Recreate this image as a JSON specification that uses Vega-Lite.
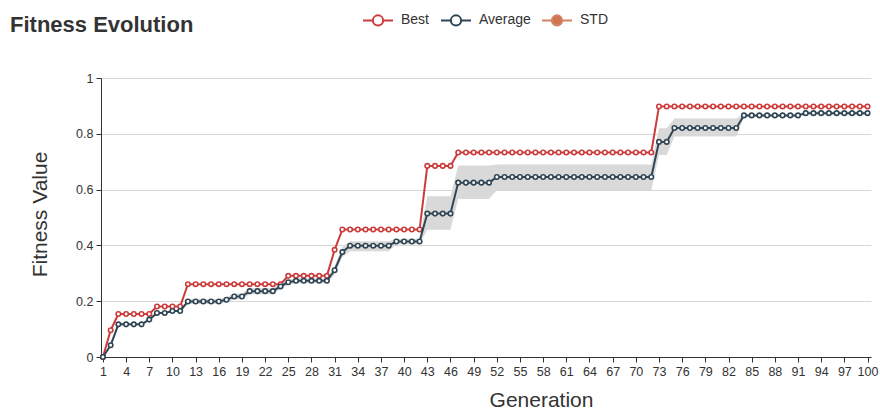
{
  "$schema": "https://vega.github.io/schema/vega-lite/v6.json",
  "width": 770,
  "height": 279,
  "autosize": {"type": "none"},
  "padding": {"left": 101, "top": 78, "right": 9, "bottom": 54},
  "background": "#ffffff",
  "title": {
    "text": "Fitness Evolution",
    "anchor": "start",
    "frame": "group",
    "dx": -91,
    "dy": 50,
    "offset": 0,
    "baseline": "alphabetic",
    "fontSize": 22,
    "fontWeight": "bold",
    "color": "#333333",
    "font": "Liberation Sans"
  },
  "data": {
    "values": [
      {"g": 1, "best": 0, "avg": 0, "lo": 0, "hi": 0},
      {"g": 2, "best": 0.096, "avg": 0.042, "lo": 0.036, "hi": 0.048},
      {"g": 3, "best": 0.154, "avg": 0.117, "lo": 0.113, "hi": 0.121},
      {"g": 4, "best": 0.154, "avg": 0.117, "lo": 0.113, "hi": 0.121},
      {"g": 5, "best": 0.154, "avg": 0.117, "lo": 0.113, "hi": 0.121},
      {"g": 6, "best": 0.154, "avg": 0.117, "lo": 0.113, "hi": 0.121},
      {"g": 7, "best": 0.154, "avg": 0.134, "lo": 0.130, "hi": 0.138},
      {"g": 8, "best": 0.181, "avg": 0.158, "lo": 0.154, "hi": 0.162},
      {"g": 9, "best": 0.181, "avg": 0.158, "lo": 0.154, "hi": 0.162},
      {"g": 10, "best": 0.181, "avg": 0.165, "lo": 0.161, "hi": 0.169},
      {"g": 11, "best": 0.181, "avg": 0.165, "lo": 0.161, "hi": 0.169},
      {"g": 12, "best": 0.261, "avg": 0.199, "lo": 0.190, "hi": 0.208},
      {"g": 13, "best": 0.261, "avg": 0.199, "lo": 0.190, "hi": 0.208},
      {"g": 14, "best": 0.261, "avg": 0.199, "lo": 0.190, "hi": 0.208},
      {"g": 15, "best": 0.261, "avg": 0.199, "lo": 0.190, "hi": 0.208},
      {"g": 16, "best": 0.261, "avg": 0.199, "lo": 0.190, "hi": 0.208},
      {"g": 17, "best": 0.261, "avg": 0.205, "lo": 0.195, "hi": 0.215},
      {"g": 18, "best": 0.261, "avg": 0.217, "lo": 0.206, "hi": 0.228},
      {"g": 19, "best": 0.261, "avg": 0.217, "lo": 0.206, "hi": 0.228},
      {"g": 20, "best": 0.261, "avg": 0.236, "lo": 0.225, "hi": 0.247},
      {"g": 21, "best": 0.261, "avg": 0.236, "lo": 0.225, "hi": 0.247},
      {"g": 22, "best": 0.261, "avg": 0.236, "lo": 0.225, "hi": 0.247},
      {"g": 23, "best": 0.261, "avg": 0.236, "lo": 0.225, "hi": 0.247},
      {"g": 24, "best": 0.261, "avg": 0.253, "lo": 0.243, "hi": 0.263},
      {"g": 25, "best": 0.291, "avg": 0.268, "lo": 0.259, "hi": 0.277},
      {"g": 26, "best": 0.291, "avg": 0.273, "lo": 0.264, "hi": 0.282},
      {"g": 27, "best": 0.291, "avg": 0.273, "lo": 0.264, "hi": 0.282},
      {"g": 28, "best": 0.291, "avg": 0.273, "lo": 0.264, "hi": 0.282},
      {"g": 29, "best": 0.291, "avg": 0.273, "lo": 0.264, "hi": 0.282},
      {"g": 30, "best": 0.291, "avg": 0.273, "lo": 0.264, "hi": 0.282},
      {"g": 31, "best": 0.384, "avg": 0.311, "lo": 0.296, "hi": 0.326},
      {"g": 32, "best": 0.457, "avg": 0.376, "lo": 0.358, "hi": 0.394},
      {"g": 33, "best": 0.457, "avg": 0.399, "lo": 0.379, "hi": 0.415},
      {"g": 34, "best": 0.457, "avg": 0.399, "lo": 0.379, "hi": 0.415},
      {"g": 35, "best": 0.457, "avg": 0.399, "lo": 0.379, "hi": 0.415},
      {"g": 36, "best": 0.457, "avg": 0.399, "lo": 0.379, "hi": 0.415},
      {"g": 37, "best": 0.457, "avg": 0.399, "lo": 0.379, "hi": 0.415},
      {"g": 38, "best": 0.457, "avg": 0.399, "lo": 0.379, "hi": 0.415},
      {"g": 39, "best": 0.457, "avg": 0.414, "lo": 0.404, "hi": 0.424},
      {"g": 40, "best": 0.457, "avg": 0.414, "lo": 0.404, "hi": 0.424},
      {"g": 41, "best": 0.457, "avg": 0.414, "lo": 0.404, "hi": 0.424},
      {"g": 42, "best": 0.457, "avg": 0.414, "lo": 0.404, "hi": 0.424},
      {"g": 43, "best": 0.685, "avg": 0.514, "lo": 0.456, "hi": 0.576},
      {"g": 44, "best": 0.685, "avg": 0.514, "lo": 0.456, "hi": 0.576},
      {"g": 45, "best": 0.685, "avg": 0.514, "lo": 0.456, "hi": 0.576},
      {"g": 46, "best": 0.685, "avg": 0.514, "lo": 0.456, "hi": 0.576},
      {"g": 47, "best": 0.733, "avg": 0.625, "lo": 0.566, "hi": 0.686},
      {"g": 48, "best": 0.733, "avg": 0.625, "lo": 0.566, "hi": 0.686},
      {"g": 49, "best": 0.733, "avg": 0.625, "lo": 0.566, "hi": 0.686},
      {"g": 50, "best": 0.733, "avg": 0.625, "lo": 0.566, "hi": 0.686},
      {"g": 51, "best": 0.733, "avg": 0.625, "lo": 0.566, "hi": 0.686},
      {"g": 52, "best": 0.733, "avg": 0.645, "lo": 0.598, "hi": 0.690},
      {"g": 53, "best": 0.733, "avg": 0.645, "lo": 0.598, "hi": 0.690},
      {"g": 54, "best": 0.733, "avg": 0.645, "lo": 0.598, "hi": 0.690},
      {"g": 55, "best": 0.733, "avg": 0.645, "lo": 0.598, "hi": 0.690},
      {"g": 56, "best": 0.733, "avg": 0.645, "lo": 0.598, "hi": 0.690},
      {"g": 57, "best": 0.733, "avg": 0.645, "lo": 0.598, "hi": 0.690},
      {"g": 58, "best": 0.733, "avg": 0.645, "lo": 0.598, "hi": 0.690},
      {"g": 59, "best": 0.733, "avg": 0.645, "lo": 0.598, "hi": 0.690},
      {"g": 60, "best": 0.733, "avg": 0.645, "lo": 0.598, "hi": 0.690},
      {"g": 61, "best": 0.733, "avg": 0.645, "lo": 0.598, "hi": 0.690},
      {"g": 62, "best": 0.733, "avg": 0.645, "lo": 0.598, "hi": 0.690},
      {"g": 63, "best": 0.733, "avg": 0.645, "lo": 0.598, "hi": 0.690},
      {"g": 64, "best": 0.733, "avg": 0.645, "lo": 0.598, "hi": 0.690},
      {"g": 65, "best": 0.733, "avg": 0.645, "lo": 0.598, "hi": 0.690},
      {"g": 66, "best": 0.733, "avg": 0.645, "lo": 0.598, "hi": 0.690},
      {"g": 67, "best": 0.733, "avg": 0.645, "lo": 0.598, "hi": 0.690},
      {"g": 68, "best": 0.733, "avg": 0.645, "lo": 0.598, "hi": 0.690},
      {"g": 69, "best": 0.733, "avg": 0.645, "lo": 0.598, "hi": 0.690},
      {"g": 70, "best": 0.733, "avg": 0.645, "lo": 0.598, "hi": 0.690},
      {"g": 71, "best": 0.733, "avg": 0.645, "lo": 0.598, "hi": 0.690},
      {"g": 72, "best": 0.733, "avg": 0.645, "lo": 0.598, "hi": 0.690},
      {"g": 73, "best": 0.898, "avg": 0.771, "lo": 0.724, "hi": 0.820},
      {"g": 74, "best": 0.898, "avg": 0.771, "lo": 0.724, "hi": 0.820},
      {"g": 75, "best": 0.898, "avg": 0.821, "lo": 0.790, "hi": 0.855},
      {"g": 76, "best": 0.898, "avg": 0.821, "lo": 0.790, "hi": 0.855},
      {"g": 77, "best": 0.898, "avg": 0.821, "lo": 0.790, "hi": 0.855},
      {"g": 78, "best": 0.898, "avg": 0.821, "lo": 0.790, "hi": 0.855},
      {"g": 79, "best": 0.898, "avg": 0.821, "lo": 0.790, "hi": 0.855},
      {"g": 80, "best": 0.898, "avg": 0.821, "lo": 0.790, "hi": 0.855},
      {"g": 81, "best": 0.898, "avg": 0.821, "lo": 0.790, "hi": 0.855},
      {"g": 82, "best": 0.898, "avg": 0.821, "lo": 0.790, "hi": 0.855},
      {"g": 83, "best": 0.898, "avg": 0.821, "lo": 0.790, "hi": 0.855},
      {"g": 84, "best": 0.898, "avg": 0.866, "lo": 0.860, "hi": 0.872},
      {"g": 85, "best": 0.898, "avg": 0.866, "lo": 0.860, "hi": 0.872},
      {"g": 86, "best": 0.898, "avg": 0.866, "lo": 0.860, "hi": 0.872},
      {"g": 87, "best": 0.898, "avg": 0.866, "lo": 0.860, "hi": 0.872},
      {"g": 88, "best": 0.898, "avg": 0.866, "lo": 0.860, "hi": 0.872},
      {"g": 89, "best": 0.898, "avg": 0.866, "lo": 0.860, "hi": 0.872},
      {"g": 90, "best": 0.898, "avg": 0.866, "lo": 0.860, "hi": 0.872},
      {"g": 91, "best": 0.898, "avg": 0.866, "lo": 0.860, "hi": 0.872},
      {"g": 92, "best": 0.898, "avg": 0.874, "lo": 0.868, "hi": 0.880},
      {"g": 93, "best": 0.898, "avg": 0.874, "lo": 0.868, "hi": 0.880},
      {"g": 94, "best": 0.898, "avg": 0.874, "lo": 0.868, "hi": 0.880},
      {"g": 95, "best": 0.898, "avg": 0.874, "lo": 0.868, "hi": 0.880},
      {"g": 96, "best": 0.898, "avg": 0.874, "lo": 0.868, "hi": 0.880},
      {"g": 97, "best": 0.898, "avg": 0.874, "lo": 0.868, "hi": 0.880},
      {"g": 98, "best": 0.898, "avg": 0.874, "lo": 0.868, "hi": 0.880},
      {"g": 99, "best": 0.898, "avg": 0.874, "lo": 0.868, "hi": 0.880},
      {"g": 100, "best": 0.898, "avg": 0.874, "lo": 0.868, "hi": 0.880}
    ]
  },
  "encoding": {
    "x": {
      "field": "g",
      "type": "quantitative",
      "scale": {"domain": [0.75, 100.45], "nice": false, "zero": false},
      "axis": {
        "title": "Generation",
        "values": [1, 4, 7, 10, 13, 16, 19, 22, 25, 28, 31, 34, 37, 40, 43, 46, 49, 52, 55, 58, 61, 64, 67, 70, 73, 76, 79, 82, 85, 88, 91, 94, 97, 100],
        "grid": false,
        "domainColor": "#333333",
        "tickColor": "#333333",
        "tickSize": 5,
        "labelFontSize": 12.5,
        "labelColor": "#333333",
        "labelPadding": 3,
        "labelFlush": false,
        "labelOverlap": false,
        "titleFontSize": 21,
        "titleFontWeight": "normal",
        "titleColor": "#333333",
        "titleX": 440,
        "titleY": 43,
        "titleBaseline": "middle"
      }
    }
  },
  "layer": [
    {
      "mark": {"type": "area", "fill": "#d9d9d9", "opacity": 1, "interpolate": "linear"},
      "encoding": {
        "y": {"field": "lo", "type": "quantitative"},
        "y2": {"field": "hi"}
      }
    },
    {
      "mark": {"type": "line", "strokeWidth": 2},
      "encoding": {
        "y": {
          "field": "best",
          "type": "quantitative",
          "scale": {"domain": [0, 1], "nice": false},
          "axis": {
            "title": "Fitness Value",
            "values": [0, 0.2, 0.4, 0.6, 0.8, 1],
            "format": "~g",
            "grid": true,
            "gridColor": "#d6d6d6",
            "domainColor": "#333333",
            "tickColor": "#333333",
            "tickSize": 5,
            "labelFontSize": 12.5,
            "labelColor": "#333333",
            "labelPadding": 3,
            "titleFontSize": 21,
            "titleFontWeight": "normal",
            "titleColor": "#333333",
            "titleX": -61,
            "titleY": 136,
            "titleAngle": -90,
            "titleBaseline": "middle"
          }
        },
        "color": {
          "datum": "Best",
          "scale": {"domain": ["Best", "Average", "STD"], "range": ["#cc3b3b", "#2f4554", "#d48265"]},
          "legend": {
            "title": null,
            "orient": "none",
            "direction": "horizontal",
            "legendX": 261,
            "legendY": -74,
            "padding": 0,
            "symbolType": "M-1,0H-0.34M0.34,0H1M0.34,0A0.34,0.34,0,1,1,-0.34,0A0.34,0.34,0,1,1,0.34,0Z",
            "symbolSize": 900,
            "symbolStrokeWidth": 2,
            "labelFontSize": 14,
            "labelColor": "#333333",
            "labelFont": "Liberation Sans",
            "labelOffset": 7,
            "columnPadding": 7,
            "encode": {
              "symbols": {
                "update": {
                  "fill": {"signal": "datum.value === 'STD' ? '#d0764f' : '#ffffff'"},
                  "stroke": {"scale": "color", "field": "value"},
                  "opacity": {"value": 1}
                }
              }
            }
          }
        }
      }
    },
    {
      "mark": {"type": "point", "shape": "circle", "filled": false, "fill": "#ffffff", "size": 20, "strokeWidth": 1.6, "opacity": 1},
      "encoding": {
        "y": {"field": "best", "type": "quantitative"},
        "color": {"datum": "Best"}
      }
    },
    {
      "mark": {"type": "line", "strokeWidth": 2},
      "encoding": {
        "y": {"field": "avg", "type": "quantitative"},
        "color": {"datum": "Average"}
      }
    },
    {
      "mark": {"type": "point", "shape": "circle", "filled": false, "fill": "#ffffff", "size": 20, "strokeWidth": 1.6, "opacity": 1},
      "encoding": {
        "y": {"field": "avg", "type": "quantitative"},
        "color": {"datum": "Average"}
      }
    }
  ],
  "config": {
    "font": "Liberation Sans",
    "view": {"stroke": null},
    "axis": {"labelFont": "Liberation Sans", "titleFont": "Liberation Sans"}
  }
}
